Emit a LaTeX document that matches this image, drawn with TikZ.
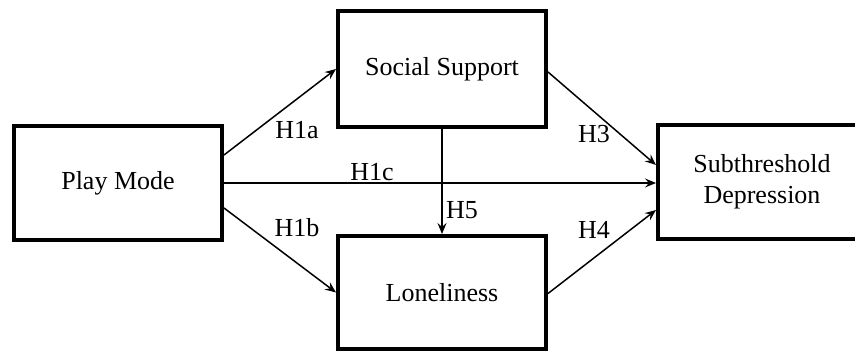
\documentclass[tikz,border=0pt]{standalone}
\usepackage{fontspec}
\setmainfont{Liberation Serif}
\usepackage{tikz}
\usetikzlibrary{arrows.meta}

\begin{document}
\begin{tikzpicture}[x=1pt,y=-1pt,
     box/.style={draw,rectangle,line width=4pt,minimum width=208pt,
                 minimum height=114pt,align=center,font=\fontsize{26}{31}\selectfont},
     path/.style={line width=1.5pt,-{Stealth[length=11pt,width=9pt,inset=4pt]}},
     hyp/.style={font=\fontsize{26}{31}\selectfont,inner sep=0pt}
     ]
   \useasboundingbox (0,0) rectangle (855,352);

   % the four constructs
   \node[box] (mode) at (118,183) {Play Mode};
   \node[box,minimum height=116pt] (support) at (442,69) {Social Support};
   \node[box,minimum height=113pt] (lonely) at (442,292.5) {Loneliness};
   \node[box] (depr) at (762,182) {Subthreshold\\Depression};

   % hypothesised paths
   \draw[path] ([yshift=28pt]mode.east) -- (support.west);
   \draw[path] ([yshift=-25pt]mode.east) -- (lonely.west);
   \draw[path] (mode.east) -- (mode.east -| depr.west);
   \draw[path] (support.south) -- (lonely.north);
   \draw[path] ([yshift=-3pt]support.east) -- ([yshift=17pt]depr.west);
   \draw[path] ([yshift=-1pt]lonely.east) -- ([yshift=-28pt]depr.west);

   \node[hyp] (h1a) at (297,130) {H1a};
   \node[hyp] (h1b) at (297,228) {H1b};
   \node[hyp] (h1c) at (372,172) {H1c};
   \node[hyp] (h5) at (462,210) {H5};
   \node[hyp] (h3) at (594,134) {H3};
   \node[hyp] (h4) at (594,230) {H4};
\end{tikzpicture}
\end{document}
